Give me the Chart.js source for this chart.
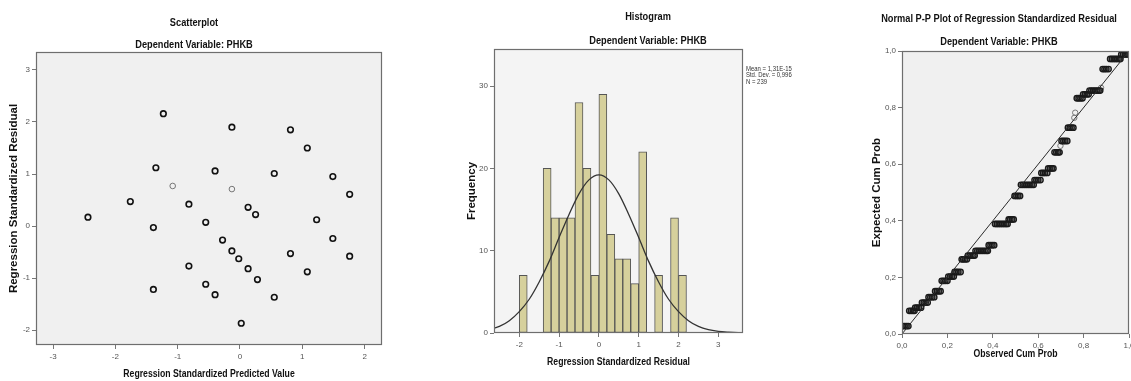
<!DOCTYPE html>
<html>
<head>
<meta charset="utf-8">
<script src="https://cdn.jsdelivr.net/npm/chart.js@4/dist/chart.umd.min.js"></script>
<style>
  html, body { margin: 0; padding: 0; background: #fff; width: 1131px; height: 381px; overflow: hidden; }
  canvas { position: absolute; top: 0; }
</style>
</head>
<body>
<canvas id="scatterChart" width="400" height="381" style="left:0px"></canvas>
<canvas id="histChart" width="400" height="381" style="left:440px"></canvas>
<canvas id="ppChart" width="310" height="381" style="left:840px"></canvas>
<script>
// --- scatterplot: standardized predicted value vs standardized residual
const scatterPred  = [-1.23, -0.13, 0.81, 1.08, -1.35, -0.40, 0.55, 1.49, 1.76, -1.76, -0.82, 0.13, 0.25, -2.44, -0.55, 1.23,
                      -1.39, 1.49, -0.28, -0.13, 0.81, 1.76, -0.02, -0.82, 0.13, 1.08, 0.28, -0.55, -1.39, -0.40, 0.55, 0.02];
const scatterResid = [2.16, 1.90, 1.85, 1.50, 1.12, 1.06, 1.01, 0.95, 0.61, 0.47, 0.42, 0.36, 0.22, 0.17, 0.07, 0.12,
                      -0.03, -0.24, -0.27, -0.48, -0.53, -0.58, -0.63, -0.77, -0.82, -0.88, -1.03, -1.12, -1.22, -1.32, -1.37, -1.87];
const faintPred  = [-1.08, -0.13];
const faintResid = [0.77, 0.71];
const scatterTicksX = [-3, -2, -1, 0, 1, 2];
const scatterTicksY = [-2, -1, 0, 1, 2, 3];

// --- histogram of residuals (bin width 0.2)
const histBinLeft = [-2.0, -1.4, -1.2, -1.0, -0.8, -0.6, -0.4, -0.2, 0.0, 0.2, 0.4, 0.6, 0.8, 1.0, 1.4, 1.8, 2.0];
const histCounts  = [7, 20, 14, 14, 14, 28, 20, 7, 29, 12, 9, 9, 6, 22, 7, 14, 7];
const histBinWidth = 0.2;
const curveX = [-2.63, -2.5, -2.25, -2, -1.75, -1.5, -1.25, -1, -0.75, -0.5, -0.25, 0, 0.25, 0.5,
                0.75, 1, 1.25, 1.5, 1.75, 2, 2.25, 2.5, 2.75, 3, 3.25, 3.5, 3.63];
const curveY = [0.6, 0.8, 1.5, 2.6, 4.1, 6.2, 8.7, 11.6, 14.4, 16.9, 18.6, 19.2, 18.6, 16.9,
                14.4, 11.6, 8.7, 6.2, 4.1, 2.6, 1.5, 0.8, 0.4, 0.2, 0.1, 0.04, 0.03];
const histTicksX = [-2, -1, 0, 1, 2, 3];
const histTicksY = [0, 10, 20, 30];
const histStats = ['Mean = 1,31E-15', 'Std. Dev. = 0,996', 'N = 239'];

// --- normal P-P plot: one row of observed cum prob per expected level
const ppLevels = [0.028, 0.082, 0.093, 0.111, 0.130, 0.151, 0.188, 0.203, 0.219, 0.264, 0.277, 0.294, 0.314, 0.389, 0.405,
                  0.488, 0.527, 0.544, 0.569, 0.585, 0.642, 0.682, 0.729, 0.833, 0.847, 0.860, 0.936, 0.972, 0.988];
const ppObserved = [
  [0.004, 0.012, 0.020, 0.028],
  [0.032, 0.040, 0.048, 0.055],
  [0.058, 0.066, 0.074, 0.084],
  [0.088, 0.096, 0.104, 0.113],
  [0.117, 0.125, 0.133, 0.142],
  [0.146, 0.154, 0.162, 0.170],
  [0.175, 0.183, 0.191, 0.200],
  [0.204, 0.212, 0.220, 0.228],
  [0.232, 0.240, 0.248, 0.258],
  [0.263, 0.270, 0.278, 0.286],
  [0.290, 0.298, 0.306, 0.314, 0.320],
  [0.324, 0.332, 0.340, 0.348, 0.356, 0.364, 0.372, 0.378],
  [0.382, 0.390, 0.398, 0.406],
  [0.410, 0.418, 0.426, 0.434, 0.442, 0.450, 0.458, 0.465],
  [0.470, 0.477, 0.485, 0.492],
  [0.496, 0.504, 0.512, 0.520],
  [0.524, 0.532, 0.540, 0.548, 0.556, 0.564, 0.572, 0.580],
  [0.584, 0.592, 0.600, 0.610],
  [0.614, 0.622, 0.630, 0.640],
  [0.644, 0.652, 0.660, 0.667],
  [0.672, 0.680, 0.688, 0.694],
  [0.703, 0.711, 0.719, 0.728],
  [0.731, 0.739, 0.747, 0.755],
  [0.770, 0.778, 0.786, 0.795],
  [0.798, 0.806, 0.814, 0.822],
  [0.826, 0.834, 0.842, 0.850, 0.858, 0.866, 0.873],
  [0.884, 0.892, 0.900, 0.910],
  [0.917, 0.925, 0.933, 0.941, 0.949, 0.957, 0.962],
  [0.966, 0.974, 0.982, 0.990, 0.997]
];
const ppFaintObserved = [0.698, 0.759, 0.763, 0.877];
const ppFaintExpected = [0.665, 0.764, 0.782, 0.870];
const ppTicks = [0, 0.2, 0.4, 0.6, 0.8, 1.0];

const sans = "'Liberation Sans', Arial, sans-serif";

// background, frame and all titles for each SPSS panel
Chart.register({
  id: 'spssPanel',
  beforeDraw(chart, args, opts) {
    const a = chart.chartArea;
    const ctx = chart.ctx;
    ctx.save();
    ctx.fillStyle = opts.background || '#f0f0f0';
    ctx.fillRect(a.left, a.top, a.right - a.left, a.bottom - a.top);
    ctx.restore();
  },
  afterDatasetsDraw(chart) {
    const a = chart.chartArea;
    const ctx = chart.ctx;
    ctx.save();
    ctx.strokeStyle = '#6e6e6e';
    ctx.lineWidth = 1.2;
    ctx.strokeRect(Math.round(a.left) + 0.5, Math.round(a.top) + 0.5,
                   Math.round(a.right - a.left) - 1, Math.round(a.bottom - a.top) - 1);
    ctx.restore();
  },
  afterDraw(chart, args, opts) {
    const ctx = chart.ctx;
    const a = chart.chartArea;
    (opts.texts || []).forEach(t => {
      ctx.save();
      ctx.font = t.font;
      ctx.fillStyle = t.color || '#111';
      ctx.textAlign = t.align || 'center';
      ctx.textBaseline = 'middle';
      const x = t.x === 'mid' ? (a.left + a.right) / 2 : t.x;
      const y = t.y === 'mid' ? (a.top + a.bottom) / 2 : t.y;
      ctx.translate(x, y);
      if (t.rotate) ctx.rotate(-Math.PI / 2);
      ctx.scale(t.squeeze || 1, 1);
      ctx.fillText(t.text, 0, 0);
      ctx.restore();
    });
  }
});

function axis(o) {
  return {
    type: 'linear',
    min: o.min,
    max: o.max,
    bounds: 'data',
    offset: false,
    afterFit: s => { if (s.isHorizontal()) s.height = o.size; else s.width = o.size; },
    afterBuildTicks: s => { s.ticks = o.ticks.map(v => ({ value: v })); },
    ticks: {
      font: { family: sans, size: 8 },
      color: '#555',
      padding: o.vertical ? 2 : 3,
      autoSkip: false,
      maxRotation: 0,
      callback: o.format || (v => String(v))
    },
    grid: { offset: false, drawOnChartArea: false, drawTicks: true, tickLength: 4, color: '#777', tickColor: '#777' },
    border: { display: false },
    title: { display: false }
  };
}

const titleFont = 'bold 11px ' + sans;
const xTitleFont = 'bold 11px ' + sans;
const yTitleFont = 'bold 11.5px ' + sans;
const commaFmt = v => v.toFixed(1).replace('.', ',');

function panelTexts(title, titleX, titleY, subY, xTitle, xTitleY, yTitle, yTitleX) {
  return [
    { text: title, x: titleX, y: titleY, font: titleFont, squeeze: 0.84 },
    { text: 'Dependent Variable: PHKB', x: titleX, y: subY, font: titleFont, squeeze: 0.84 },
    { text: xTitle, x: 'mid', y: xTitleY, font: xTitleFont, squeeze: 0.79 },
    { text: yTitle, x: yTitleX, y: 'mid', font: yTitleFont, rotate: true }
  ];
}

Chart.defaults.animation = false;
Chart.defaults.plugins.legend.display = false;
Chart.defaults.plugins.tooltip.enabled = false;

// scatterplot
new Chart(document.getElementById('scatterChart'), {
  type: 'scatter',
  data: {
    datasets: [{
      data: scatterPred.map((x, i) => ({ x, y: scatterResid[i] })),
      pointRadius: 2.8,
      pointBorderWidth: 1.6,
      pointBorderColor: '#111',
      pointBackgroundColor: 'rgba(0,0,0,0)'
    }, {
      data: faintPred.map((x, i) => ({ x, y: faintResid[i] })),
      pointRadius: 2.8,
      pointBorderWidth: 1,
      pointBorderColor: '#777',
      pointBackgroundColor: 'rgba(0,0,0,0)'
    }]
  },
  options: {
    responsive: false,
    layout: { padding: { top: 52, right: 18, left: 0, bottom: 0 } },
    scales: {
      x: axis({ min: -3.274, max: 2.279, size: 36, ticks: scatterTicksX }),
      y: axis({ min: -2.288, max: 3.346, size: 36, ticks: scatterTicksY, vertical: true })
    },
    plugins: {
      spssPanel: {
        background: '#f0f0f0',
        texts: panelTexts('Scatterplot', 194, 23, 45,
                          'Regression Standardized Predicted Value', 374,
                          'Regression Standardized Residual', 14)
      }
    }
  }
});

// histogram
new Chart(document.getElementById('histChart'), {
  type: 'bar',
  data: {
    datasets: [{
      type: 'line',
      order: 0,
      data: curveX.map((x, i) => ({ x, y: curveY[i] })),
      borderColor: '#333',
      borderWidth: 1.3,
      pointRadius: 0,
      tension: 0.4,
      cubicInterpolationMode: 'monotone',
      fill: false
    }, {
      type: 'bar',
      order: 1,
      data: histBinLeft.map((x, i) => ({ x: x + histBinWidth / 2, y: histCounts[i] })),
      backgroundColor: '#d6d09c',
      borderColor: '#555',
      borderWidth: 1,
      borderSkipped: false,
      barPercentage: 1,
      categoryPercentage: 1
    }]
  },
  options: {
    responsive: false,
    layout: { padding: { top: 49, right: 97, left: 0, bottom: 0 } },
    scales: {
      x: axis({ min: -2.635, max: 3.62, size: 48, ticks: histTicksX }),
      y: axis({ min: 0, max: 34.5, size: 54, ticks: histTicksY, vertical: true })
    },
    plugins: {
      spssPanel: {
        background: '#f4f4f4',
        texts: [
          ...panelTexts('Histogram', 208, 17, 41,
                        'Regression Standardized Residual', 362,
                        'Frequency', 32),
          ...histStats.map((s, i) => ({ text: s, x: 306, y: 69 + i * 6.5, font: '7px ' + sans,
                                        color: '#333', align: 'left', squeeze: 0.85 }))
        ]
      }
    }
  }
});

// normal P-P plot
new Chart(document.getElementById('ppChart'), {
  type: 'scatter',
  data: {
    datasets: [{
      data: [{ x: 0, y: 0 }, { x: 1, y: 1 }],
      showLine: true,
      borderColor: '#2a2a2a',
      borderWidth: 1,
      pointRadius: 0
    }, {
      data: ppLevels.flatMap((lvl, i) => ppObserved[i].map(x => ({ x, y: lvl }))),
      pointRadius: 2.7,
      pointBorderWidth: 1.4,
      pointBorderColor: '#1a1a1a',
      pointBackgroundColor: 'rgba(60,60,60,0.25)'
    }, {
      data: ppFaintObserved.map((x, i) => ({ x, y: ppFaintExpected[i] })),
      pointRadius: 2.7,
      pointBorderWidth: 1,
      pointBorderColor: '#777',
      pointBackgroundColor: 'rgba(0,0,0,0)'
    }]
  },
  options: {
    responsive: false,
    layout: { padding: { top: 51, right: 21, left: 0, bottom: 0 } },
    scales: {
      x: axis({ min: 0, max: 1, size: 47, ticks: ppTicks, format: commaFmt }),
      y: axis({ min: 0, max: 1, size: 62, ticks: ppTicks, format: commaFmt, vertical: true })
    },
    plugins: {
      spssPanel: {
        background: '#f0f0f0',
        texts: panelTexts('Normal P-P Plot of Regression Standardized Residual', 159, 19, 42,
                          'Observed Cum Prob', 354,
                          'Expected Cum Prob', 37)
      }
    }
  }
});
</script>
</body>
</html>
